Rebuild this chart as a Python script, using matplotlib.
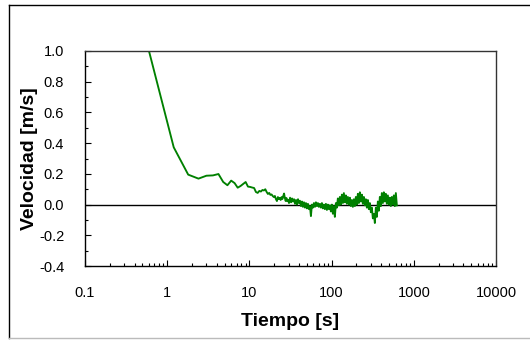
import matplotlib
matplotlib.use("Agg")
import matplotlib.pyplot as plt
from matplotlib.ticker import FixedLocator, FuncFormatter, MultipleLocator, NullFormatter
from matplotlib.lines import Line2D

plt.rcParams['font.family'] = ['Liberation Sans', 'DejaVu Sans']
plt.rcParams['axes.unicode_minus'] = False

# registro inicial, cada 0.6 s
t_ini = [0.6, 1.2, 1.8, 2.4, 3.0, 3.6, 4.2, 4.8, 5.4, 6.0,
         6.6, 7.2, 7.8, 8.4, 9.0, 9.6, 10.2, 10.8, 11.4, 12.0,
         12.6, 13.2, 13.8, 14.4, 15.0, 15.6, 16.2, 16.8, 17.4, 18.0,
         18.6, 19.2, 19.8, 20.4, 21.0, 21.6, 22.2, 22.8, 23.4, 24.0,
         24.6, 25.2, 25.8, 26.4, 27.0, 27.6, 28.2, 28.8]
v_ini = [1.0, 0.373, 0.195, 0.169, 0.188, 0.19, 0.199, 0.147, 0.126, 0.156,
         0.14, 0.11, 0.121, 0.134, 0.147, 0.117, 0.115, 0.111, 0.108, 0.082,
         0.076, 0.089, 0.085, 0.095, 0.092, 0.10, 0.082, 0.069, 0.076, 0.063,
         0.066, 0.056, 0.049, 0.056, 0.036, 0.023, 0.049, 0.036, 0.043, 0.03,
         0.049, 0.036, 0.056, 0.072, 0.043, 0.023, 0.043, 0.023]

# tramo final con oscilaciones
t_fin = [29.5, 30.3, 31.2, 32.1, 33.0, 33.9, 34.9, 35.9, 36.9, 37.9,
         39.0, 40.1, 41.2, 42.4, 43.6, 44.8, 46.1, 47.4, 48.7, 50.1,
         51.5, 53.0, 54.5, 56.0, 57.6, 59.2, 60.9, 62.6, 64.4, 66.2,
         68.1, 70.0, 72.0, 74.1, 76.2, 78.3, 80.5, 82.8, 85.2, 87.6,
         90.1, 92.6, 95.3, 98.0, 100.7, 103.6, 106.5, 109.5, 112.7, 115.9,
         119.1, 122.5, 126.0, 129.6, 133.3, 137.1, 140.9, 144.9, 149.1, 153.3,
         157.6, 162.1, 166.7, 171.5, 176.3, 181.3, 186.5, 191.8, 197.2, 202.8,
         208.6, 214.5, 220.6, 226.9, 233.3, 239.9, 246.7, 253.7, 260.9, 268.4,
         276.0, 283.8, 291.9, 300.2, 308.7, 317.5, 326.5, 335.7, 345.3, 355.1,
         365.2, 375.5, 386.2, 397.2, 408.4, 420.0, 432.0, 444.2, 456.9, 469.8,
         483.2, 496.9, 511.0, 525.5, 540.4, 555.8, 571.6, 587.8, 604.5, 621.6]
v_fin = [0.03, 0.01, 0.045, 0.015, 0.04, 0.02, 0.035, 0.005, 0.03, 0.0,
         0.035, 0.01, 0.025, -0.01, 0.02, -0.015, 0.015, -0.02, 0.01, -0.025,
         0.005, -0.03, -0.01, -0.075, 0.0, -0.02, 0.01, -0.015, 0.015, -0.01,
         0.01, -0.015, 0.005, -0.02, 0.01, -0.025, 0.0, -0.03, 0.005, -0.035,
         0.0, -0.03, -0.005, -0.045, 0.0, -0.06, -0.01, -0.08, 0.01, -0.02,
         0.04, -0.005, 0.05, 0.0, 0.065, 0.01, 0.075, 0.015, 0.06, 0.005,
         0.05, 0.0, 0.045, -0.01, 0.03, -0.015, 0.035, -0.01, 0.05, 0.0,
         0.07, 0.01, 0.08, 0.02, 0.065, 0.005, 0.05, -0.005, 0.035, -0.02,
         0.03, -0.03, 0.01, -0.05, -0.02, -0.09, -0.06, -0.12, -0.02, -0.08,
         0.02, -0.04, 0.05, -0.01, 0.075, 0.01, 0.08, 0.02, 0.07, 0.005,
         0.06, 0.0, 0.045, -0.01, 0.05, 0.0, 0.06, -0.01, 0.075, -0.005]

tiempo = t_ini + t_fin
velocidad = v_ini + v_fin

x_ticks = [0.1, 1, 10, 100, 1000, 10000]

fig = plt.figure(figsize=(5.3, 3.4), dpi=100)
ax = fig.add_axes([0.1604, 0.2176, 0.7755, 0.6324])

ax.axhline(0, color='black', lw=1.0, zorder=1)
ax.plot(tiempo, velocidad, color='#008000', lw=1.35, zorder=2)

ax.set_xscale('log')
ax.set_xlim(0.1, 10000)
ax.set_ylim(-0.4, 1.0)
ax.xaxis.set_major_locator(FixedLocator(x_ticks))
ax.xaxis.set_major_formatter(FuncFormatter(lambda v, p: f'{v:g}'))
ax.xaxis.set_minor_formatter(NullFormatter())
ax.yaxis.set_major_locator(MultipleLocator(0.2))
ax.yaxis.set_minor_locator(MultipleLocator(0.1))
ax.yaxis.set_major_formatter(FuncFormatter(lambda v, p: f'{v:.1f}'))

ax.tick_params(which='both', direction='in', labelsize=10.5, color='black')
ax.tick_params(which='major', length=4, width=0.8)
ax.tick_params(which='minor', length=2.5, width=0.8)
ax.tick_params(axis='x', pad=14.5)
ax.tick_params(axis='y', pad=15)

for side in ['left', 'bottom']:
    ax.spines[side].set_color('black')
    ax.spines[side].set_linewidth(1.0)
for side in ['top', 'right']:
    ax.spines[side].set_color('#333333')
    ax.spines[side].set_linewidth(1.0)

ax.set_xlabel('Tiempo [s]', fontsize=14, fontweight='bold')
ax.set_ylabel('Velocidad [m/s]', fontsize=14, fontweight='bold')
ax.xaxis.set_label_coords(0.5, -0.219)
ax.yaxis.set_label_coords(-0.114, 0.5)

# marco exterior
fig.add_artist(Line2D([9/530, 9/530], [1 - 5/340, 1 - 338/340], color='black', lw=1.0, transform=fig.transFigure))
fig.add_artist(Line2D([9/530, 1.0], [1 - 5/340, 1 - 5/340], color='black', lw=1.0, transform=fig.transFigure))
fig.add_artist(Line2D([9/530, 1.0], [1 - 338/340, 1 - 338/340], color='#bbbbbb', lw=1.0, transform=fig.transFigure))

fig.savefig('out.png', dpi=100)
